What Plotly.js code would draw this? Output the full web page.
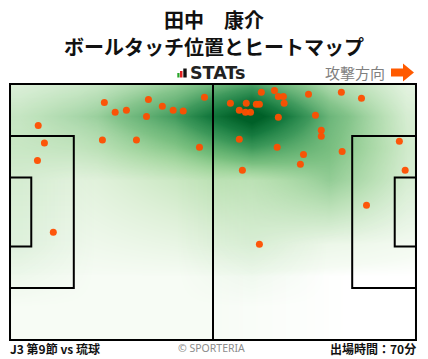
<!DOCTYPE html>
<html>
<head>
<meta charset="utf-8">
<script src="https://cdn.plot.ly/plotly-3.0.1.min.js"></script>
<style>html,body{margin:0;padding:0;background:#fff;}#chart{width:428px;height:359px;}</style>
</head>
<body>
<div id="chart"></div>
<script>
// Ball touch positions (pitch metres: x 0-105 attacking right, y 0-68)
const touchX = [24.4, 27.2, 30.1, 35.8, 39.4, 42.2, 44.8, 50.3, 35.3, 7.3, 8.9, 7.1, 23.9, 32.7, 49.0, 11.2,
  65.0, 68.4, 69.4, 70.7, 77.2, 85.7, 90.9, 57.0, 61.1, 63.7, 64.5, 70.9, 59.3, 60.9, 62.2, 69.4, 79.0,
  80.5, 80.5, 59.3, 69.1, 75.9, 75.1, 85.9, 100.7, 60.1, 102.2, 92.2, 64.5];
const touchY = [63.1, 60.5, 61.0, 63.9, 62.1, 61.0, 60.8, 64.5, 59.4, 57.0, 52.3, 47.7, 53.1, 53.1, 51.2, 28.6,
  65.8, 66.3, 64.7, 64.7, 65.3, 65.8, 64.2, 62.9, 62.9, 62.6, 62.6, 62.9, 61.0, 60.5, 60.5, 59.2, 59.7,
  55.7, 54.1, 53.3, 51.2, 49.3, 46.7, 50.1, 52.8, 45.1, 45.1, 35.8, 25.4];

const titleLines = ["田中　康介", "ボールタッチ位置とヒートマップ"];
const matchLabel = "J3 第9節 vs 琉球";
const minutesLabel = "出場時間：70分";
const creditLabel = "© SPORTERIA";
const directionLabel = "攻撃方向";
const logoLabel = "STATs";

const broadScale = [[0,'#ffffff'],[0.06,'#f5fbf3'],[0.4,'#def0d8'],[0.7,'#c6e6be'],[1,'#acdba5']];
const fineScale = [[0,'rgba(130,200,130,0)'],[0.15,'rgba(120,195,120,0.3)'],[0.35,'rgba(80,170,95,0.62)'],
  [0.6,'rgba(40,140,75,0.86)'],[0.8,'rgba(15,118,58,0.96)'],[1,'rgba(0,96,40,1)']];

const broad = {
  type: 'histogram2d', x: touchX, y: touchY,
  xbins: {start: 0, end: 105.01, size: 35},
  ybins: {start: 0, end: 68.01, size: 34},
  zsmooth: 'best', colorscale: broadScale, zmin: 0, zmax: 21,
  showscale: false, hoverinfo: 'skip'
};
const fine = {
  type: 'histogram2d', x: touchX, y: touchY,
  xbins: {start: -7.5, end: 112.5, size: 20},
  ybins: {start: 0, end: 68.01, size: 17},
  zsmooth: 'best', colorscale: fineScale, zmin: 0, zmax: 13.5,
  showscale: false, hoverinfo: 'skip'
};
const pts = {
  type: 'scatter', mode: 'markers', x: touchX, y: touchY,
  marker: {size: 7, color: 'rgba(255,78,0,0.95)', line: {width: 0}},
  hoverinfo: 'skip'
};

const L = {color: '#000', width: 2};
function rect(x0, y0, x1, y1) { return {type: 'rect', xref: 'x', yref: 'y', x0, y0, x1, y1, line: L, layer: 'above'}; }
const shapes = [
  rect(0, 0, 105, 68),
  {type: 'line', xref: 'x', yref: 'y', x0: 52.5, x1: 52.5, y0: 0, y1: 68, line: L, layer: 'above'},
  rect(0, 13.84, 16.5, 54.16), rect(0, 24.85, 5.5, 43.15),
  rect(88.5, 13.84, 105, 54.16), rect(99.5, 24.85, 105, 43.15),
  // logo bars
  {type: 'rect', xref: 'paper', yref: 'paper', x0: 0.4125, x1: 0.418, y0: 1.0213, y1: 1.0388, fillcolor: '#2aa52a', line: {width: 0}},
  {type: 'rect', xref: 'paper', yref: 'paper', x0: 0.4191, x1: 0.4252, y0: 1.0213, y1: 1.0465, fillcolor: '#e02020', line: {width: 0}},
  {type: 'rect', xref: 'paper', yref: 'paper', x0: 0.4272, x1: 0.4355, y0: 1.0213, y1: 1.0562, fillcolor: '#111', line: {width: 0}},
  // direction arrow
  {type: 'path', xref: 'paper', yref: 'paper',
   path: 'M 0.9363 1.0562 L 0.9657 1.0562 L 0.9657 1.0756 L 0.9926 1.0407 L 0.9657 1.0058 L 0.9657 1.0252 L 0.9363 1.0252 Z',
   fillcolor: '#ff5a00', line: {width: 0}}
];

const JP = '"Noto Sans CJK JP", "Noto Sans", sans-serif';
const annotations = [
  {text: '<b>' + titleLines[0] + '</b>', x: 0.5025, y: 1.2442, font: {size: 20, color: '#111', family: JP}},
  {text: '<b>' + titleLines[1] + '</b>', x: 0.5025, y: 1.1434, font: {size: 20, color: '#111', family: JP}},
  {text: '<b>' + logoLabel + '</b>', x: 0.439, xanchor: 'left', y: 1.0388, font: {size: 17.5, color: '#222', family: '"DejaVu Sans", sans-serif'}},
  {text: directionLabel, x: 0.849, y: 1.0426, font: {size: 15, color: '#808080', family: JP}},
  {text: '<b>' + matchLabel + '</b>', x: -0.002, xanchor: 'left', y: -0.031, font: {size: 12, color: '#111', family: JP}},
  {text: creditLabel, x: 0.4975, y: -0.029, font: {size: 10.5, color: '#8c8c8c', family: '"Noto Sans", sans-serif'}},
  {text: '<b>' + minutesLabel + '</b>', x: 1.002, xanchor: 'right', y: -0.031, font: {size: 12, color: '#111', family: JP}}
].map(a => Object.assign({xref: 'paper', yref: 'paper', yanchor: 'middle', xanchor: 'center', showarrow: false}, a));

const ax = {showgrid: false, zeroline: false, showline: false, showticklabels: false, ticks: '', fixedrange: true};
const layout = {
  width: 428, height: 359,
  margin: {l: 9, r: 11, t: 83, b: 18},
  paper_bgcolor: '#fff', plot_bgcolor: '#fff',
  showlegend: false,
  xaxis: Object.assign({range: [-0.26, 105.26]}, ax),
  yaxis: Object.assign({range: [-0.27, 68.27]}, ax),
  shapes, annotations
};
Plotly.newPlot('chart', [broad, fine, pts], layout, {displayModeBar: false, staticPlot: true});
</script>
</body>
</html>
